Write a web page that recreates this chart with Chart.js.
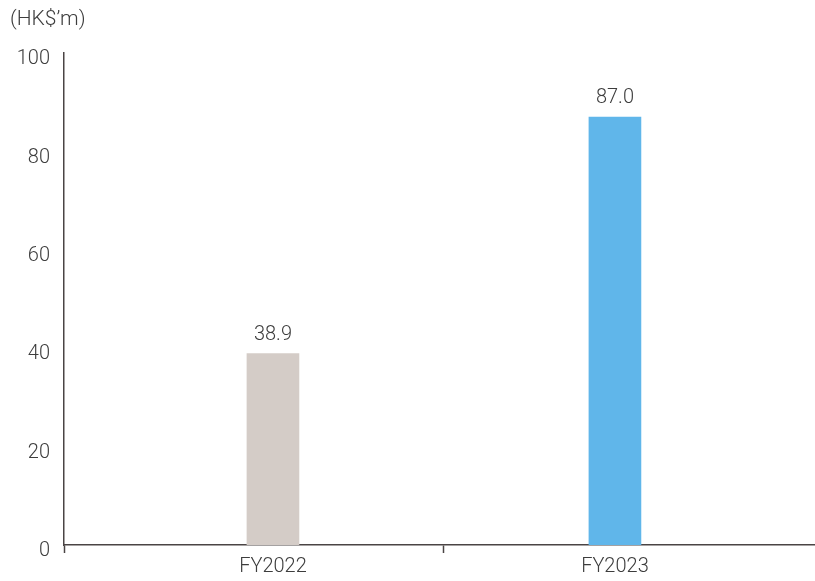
<!DOCTYPE html>
<html>
<head>
<meta charset="utf-8">
<script src="https://cdn.jsdelivr.net/npm/chart.js@4/dist/chart.umd.min.js"></script>
<style>
  html, body { margin: 0; padding: 0; background: #fff; }
  #wrap { width: 815px; height: 581px; position: relative; }
</style>
</head>
<body>
<div id="wrap"><canvas id="profitChart"></canvas></div>
<script>
// data
const categories = ["FY2022", "FY2023"];
const values = [38.9, 87.0];
const valueLabels = ["38.9", "87.0"];
const barColors = ["#d4ccc7", "#60b6ea"];
const yTicks = [0, 20, 40, 60, 80, 100];
const unitLabel = "(HK$\u2019m)";

const axisColor = "#4a4444";
const textColor = "#3d3d3d";
const fontFamily = "Roboto";
const xMin = -0.611, xMax = 1.585;

// value labels above bars + y tick labels (drawn a few px below their tick like the original)
const textMarks = {
    id: "textMarks",
    afterDatasetsDraw(chart) {
        const ctx = chart.ctx;
        const meta = chart.getDatasetMeta(0);
        const y = chart.scales.y;
        ctx.save();
        ctx.font = "300 20px " + fontFamily;
        ctx.fillStyle = textColor;
        ctx.textAlign = "center";
        ctx.textBaseline = "bottom";
        meta.data.forEach(function (bar, i) {
            ctx.fillText(valueLabels[i], bar.x, bar.y - 9);
        });
        ctx.textAlign = "right";
        ctx.textBaseline = "middle";
        yTicks.forEach(function (v) {
            ctx.fillText(String(v), y.right - 14, y.getPixelForValue(v) + 6);
        });
        ctx.restore();
    }
};

document.addEventListener("DOMContentLoaded", function () {

    const el = document.getElementById("profitChart");

    new Chart(el, {
        type: "bar",
        data: {
            datasets: [{
                data: values.map(function (v, i) { return { x: i, y: v }; }),
                backgroundColor: barColors,
                barThickness: 52
            }]
        },
        options: {
            responsive: true,
            maintainAspectRatio: false,
            animation: false,
            layout: { padding: { top: 7, left: 10, right: 0, bottom: 0 } },
            plugins: {
                legend: { display: false },
                tooltip: { enabled: false },
                title: {
                    display: true,
                    text: unitLabel,
                    align: "start",
                    color: textColor,
                    font: { family: fontFamily, size: 21, weight: "300" },
                    padding: { top: 0, bottom: 21 }
                }
            },
            scales: {
                x: {
                    type: "linear",
                    offset: false,
                    min: xMin,
                    max: xMax,
                    afterBuildTicks: function (scale) {
                        scale.ticks = [{ value: xMin }, { value: 0 }, { value: 0.5 }, { value: 1 }];
                    },
                    border: { display: true, color: axisColor, width: 1.5 },
                    grid: {
                        offset: false,
                        drawOnChartArea: false,
                        drawTicks: true,
                        tickLength: 8,
                        tickWidth: 1.5,
                        tickColor: function (c) {
                            if (!c.tick) return "transparent";
                            return (c.tick.value === 0.5 || c.tick.value === xMin) ? axisColor : "transparent";
                        }
                    },
                    ticks: {
                        autoSkip: false,
                        maxRotation: 0,
                        padding: 2,
                        color: textColor,
                        font: { family: fontFamily, size: 20, weight: "300" },
                        callback: function (v) {
                            return Number.isInteger(v) && categories[v] ? categories[v] : "";
                        }
                    }
                },
                y: {
                    min: 0,
                    max: 100,
                    afterBuildTicks: function (scale) {
                        scale.ticks = yTicks.map(function (v) { return { value: v }; });
                    },
                    afterFit: function (scale) { scale.width = 54; },
                    border: { display: true, color: axisColor, width: 1.5 },
                    grid: { display: false, drawTicks: false },
                    ticks: { display: false }
                }
            }
        },
        plugins: [textMarks]
    });

});
</script>
</body>
</html>
